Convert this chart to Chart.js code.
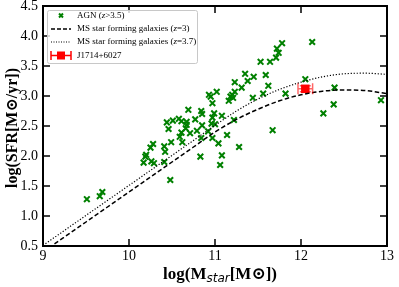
<!DOCTYPE html>
<html>
<head>
<meta charset="UTF-8">
<title>SFR vs stellar mass</title>
<script src="https://cdn.jsdelivr.net/npm/chart.js"></script>
<style>
  body { margin: 0; background: #fff; }
  #wrap { width: 399px; height: 287px; position: relative; }
</style>
</head>
<body>
<div id="wrap"><canvas id="sfrChart"></canvas></div>
<script>
// AGN at z>3.5
const agnMass = [9.51, 9.66, 9.69, 10.17, 10.19, 10.20, 10.26, 10.29, 10.25, 10.28,
  10.41, 10.42, 10.41, 10.48, 10.49, 10.46, 10.44, 10.51, 10.58, 10.61,
  10.59, 10.61, 10.62, 10.66, 10.67, 10.67, 10.69, 10.71, 10.77, 10.79,
  10.83, 10.85, 10.84, 10.85, 10.84, 10.92, 10.93, 10.95, 10.97, 10.97,
  10.96, 10.99, 10.97, 11.00, 11.02, 11.04, 11.06, 11.08, 11.08, 11.14,
  11.16, 11.18, 11.20, 11.21, 11.23, 11.23, 11.22, 11.28, 11.31, 11.35,
  11.38, 11.45, 11.44, 11.53, 11.56, 11.59, 11.62, 11.64, 11.67, 11.71,
  11.72, 11.74, 11.78, 11.82, 12.05, 12.13, 12.26, 12.38, 12.39, 12.93];
const agnSfr = [1.28, 1.33, 1.40, 1.89, 1.99, 2.02, 1.91, 1.88, 2.14, 2.20,
  1.90, 2.07, 2.16, 1.60, 2.23, 2.45, 2.56, 2.59, 2.62, 2.58,
  2.32, 2.39, 2.23, 2.46, 2.52, 2.57, 2.77, 2.38, 2.61, 2.42,
  1.99, 2.51, 2.75, 2.70, 2.30, 2.41, 3.02, 2.99, 2.88, 2.64,
  2.54, 2.71, 2.30, 2.53, 3.07, 2.21, 1.85, 2.01, 2.67, 2.35,
  2.92, 2.99, 3.02, 2.97, 3.07, 3.23, 2.60, 2.15, 3.14, 3.37,
  3.25, 3.32, 2.97, 3.57, 3.04, 3.35, 3.17, 3.57, 2.43, 3.64,
  3.79, 3.72, 3.88, 3.04, 3.28, 3.90, 2.71, 2.86, 3.14, 2.93];

// main sequence curves, read at steps of 0.25 in mass
const msMass = [9.0, 9.25, 9.5, 9.75, 10.0, 10.25, 10.5, 10.75, 11.0, 11.25,
  11.5, 11.75, 12.0, 12.25, 12.5, 12.75, 13.0];
const msZ3 = [0.40, 0.65, 0.90, 1.15, 1.40, 1.65, 1.90, 2.15, 2.40, 2.61,
  2.78, 2.92, 3.02, 3.08, 3.10, 3.09, 3.04];
const msZ37 = [0.51, 0.76, 1.01, 1.26, 1.51, 1.76, 2.01, 2.26, 2.51, 2.75,
  2.95, 3.11, 3.23, 3.32, 3.37, 3.38, 3.36];

// J1714+6027
const j1714Mass = [12.05];
const j1714Sfr = [3.12];
const j1714MassErr = [0.085];
const j1714SfrErr = [0.05];

const GREEN = '#008000';
const RED = '#ff0000';
const SERIF = "'Liberation Serif', 'DejaVu Serif', serif";

Chart.defaults.font.family = SERIF;
Chart.defaults.color = '#000';

const toPoints = (xs, ys) => xs.map((x, i) => ({ x: x, y: ys[i] }));

// error bars for J1714, drawn through the scales
const errorBars = {
  id: 'errorBars',
  afterDatasetsDraw(chart) {
    const { ctx, scales: { x, y } } = chart;
    ctx.save();
    ctx.strokeStyle = 'rgba(255,0,0,0.6)';
    ctx.lineWidth = 1.5;
    j1714Mass.forEach((m, i) => {
      const px = x.getPixelForValue(m);
      const py = y.getPixelForValue(j1714Sfr[i]);
      const x0 = x.getPixelForValue(m - j1714MassErr[i]);
      const x1 = x.getPixelForValue(m + j1714MassErr[i]);
      const y0 = y.getPixelForValue(j1714Sfr[i] - j1714SfrErr[i]);
      const y1 = y.getPixelForValue(j1714Sfr[i] + j1714SfrErr[i]);
      ctx.beginPath();
      ctx.moveTo(x0, py); ctx.lineTo(x1, py);
      ctx.moveTo(x0, py - 5.5); ctx.lineTo(x0, py + 5.5);
      ctx.moveTo(x1, py - 5.5); ctx.lineTo(x1, py + 5.5);
      ctx.moveTo(px, y0); ctx.lineTo(px, y1);
      ctx.moveTo(px - 5.5, y0); ctx.lineTo(px + 5.5, y0);
      ctx.moveTo(px - 5.5, y1); ctx.lineTo(px + 5.5, y1);
      ctx.stroke();
    });
    ctx.restore();
  }
};

// draw text pieces with mixed fonts
function drawPieces(ctx, pieces, x, y, align) {
  let total = 0;
  pieces.forEach(p => { ctx.font = p.font; total += ctx.measureText(p.text).width; });
  let cx = align === 'center' ? x - total / 2 : x;
  ctx.textAlign = 'left';
  pieces.forEach(p => {
    ctx.font = p.font;
    ctx.fillText(p.text, cx, y + (p.dy || 0));
    cx += ctx.measureText(p.text).width;
  });
}

// frame, inward ticks, axis titles and legend
const decor = {
  id: 'decor',
  afterDraw(chart) {
    const { ctx, chartArea: a, scales: { x, y } } = chart;
    ctx.save();
    ctx.strokeStyle = '#000';

    ctx.lineWidth = 1.5;
    ctx.beginPath();
    x.ticks.forEach(t => {
      const px = x.getPixelForValue(t.value);
      ctx.moveTo(px, a.bottom); ctx.lineTo(px, a.bottom - 7);
      ctx.moveTo(px, a.top); ctx.lineTo(px, a.top + 7);
    });
    y.ticks.forEach(t => {
      const py = y.getPixelForValue(t.value);
      ctx.moveTo(a.left, py); ctx.lineTo(a.left + 7, py);
      ctx.moveTo(a.right, py); ctx.lineTo(a.right - 7, py);
    });
    ctx.stroke();

    ctx.lineWidth = 2;
    ctx.strokeRect(a.left, a.top, a.right - a.left, a.bottom - a.top);

    // axis titles
    ctx.fillStyle = '#000';
    ctx.textBaseline = 'alphabetic';
    drawPieces(ctx, [
      { text: 'log(M', font: 'bold 17px ' + SERIF },
      { text: 'star', font: "italic 12px 'DejaVu Sans', sans-serif", dy: 3 },
      { text: '[M\u2299])', font: 'bold 17px ' + SERIF }
    ], 220, 279, 'center');

    ctx.save();
    ctx.translate(16.5, 128);
    ctx.rotate(-Math.PI / 2);
    ctx.font = 'bold 16px ' + SERIF;
    ctx.textAlign = 'center';
    ctx.fillText('log(SFR[M\u2299/yr])', 0, 0);
    ctx.restore();

    // legend
    const lx = 47.5, ly = 10.5, lw = 150, lh = 53;
    ctx.fillStyle = 'rgba(255,255,255,0.8)';
    ctx.strokeStyle = '#c8c8c8';
    ctx.lineWidth = 1;
    ctx.beginPath();
    ctx.roundRect(lx, ly, lw, lh, 2);
    ctx.fill();
    ctx.stroke();

    const rows = [15.5, 29, 42, 55.5];
    const sx0 = 51, sx1 = 71, tx = 77;

    ctx.strokeStyle = GREEN;
    ctx.lineWidth = 2;
    ctx.beginPath();
    ctx.moveTo(59, rows[0] - 2); ctx.lineTo(63, rows[0] + 2);
    ctx.moveTo(59, rows[0] + 2); ctx.lineTo(63, rows[0] - 2);
    ctx.stroke();

    ctx.strokeStyle = '#000';
    ctx.lineWidth = 1.4;
    ctx.setLineDash([4, 2]);
    ctx.beginPath(); ctx.moveTo(sx0, rows[1]); ctx.lineTo(sx1, rows[1]); ctx.stroke();
    ctx.lineWidth = 1.1;
    ctx.setLineDash([1, 1.5]);
    ctx.beginPath(); ctx.moveTo(sx0, rows[2]); ctx.lineTo(sx1, rows[2]); ctx.stroke();
    ctx.setLineDash([]);

    ctx.strokeStyle = RED;
    ctx.lineWidth = 1.5;
    ctx.beginPath();
    ctx.moveTo(sx0, rows[3]); ctx.lineTo(sx1, rows[3]);
    ctx.moveTo(sx0, rows[3] - 4.5); ctx.lineTo(sx0, rows[3] + 4.5);
    ctx.moveTo(sx1, rows[3] - 4.5); ctx.lineTo(sx1, rows[3] + 4.5);
    ctx.stroke();
    ctx.fillStyle = RED;
    ctx.fillRect(57, rows[3] - 4, 8, 8);

    ctx.fillStyle = '#000';
    ctx.textBaseline = 'middle';
    const reg = '9px ' + SERIF, ita = 'italic 9px ' + SERIF;
    drawPieces(ctx, [{ text: 'AGN (', font: reg }, { text: 'z', font: ita }, { text: '>3.5)', font: reg }], tx, rows[0]);
    drawPieces(ctx, [{ text: 'MS star forming galaxies (', font: reg }, { text: 'z', font: ita }, { text: '=3)', font: reg }], tx, rows[1]);
    drawPieces(ctx, [{ text: 'MS star forming galaxies (', font: reg }, { text: 'z', font: ita }, { text: '=3.7)', font: reg }], tx, rows[2]);
    drawPieces(ctx, [{ text: 'J1714+6027', font: reg }], tx, rows[3]);

    ctx.restore();
  }
};

new Chart(document.getElementById('sfrChart'), {
  type: 'scatter',
  data: {
    datasets: [
      {
        label: 'MS star forming galaxies (z=3)',
        type: 'line',
        data: toPoints(msMass, msZ3),
        borderColor: '#000',
        borderWidth: 1.5,
        borderDash: [4.5, 2.5],
        pointRadius: 0,
        cubicInterpolationMode: 'monotone',
        fill: false
      },
      {
        label: 'MS star forming galaxies (z=3.7)',
        type: 'line',
        data: toPoints(msMass, msZ37),
        borderColor: '#000',
        borderWidth: 1.2,
        borderDash: [1.2, 1.8],
        pointRadius: 0,
        cubicInterpolationMode: 'monotone',
        fill: false
      },
      {
        label: 'AGN (z>3.5)',
        data: toPoints(agnMass, agnSfr),
        pointStyle: 'crossRot',
        pointRadius: 4,
        borderColor: GREEN,
        borderWidth: 2
      },
      {
        label: 'J1714+6027',
        data: toPoints(j1714Mass, j1714Sfr),
        pointStyle: 'rect',
        pointRadius: 6,
        backgroundColor: RED,
        borderColor: RED,
        borderWidth: 0
      }
    ]
  },
  options: {
    responsive: true,
    maintainAspectRatio: false,
    animation: false,
    layout: { padding: { top: 6, right: 12, left: 0, bottom: 0 } },
    plugins: { legend: { display: false }, tooltip: { enabled: false } },
    scales: {
      x: {
        type: 'linear',
        min: 9, max: 13,
        grid: { display: false, drawTicks: false },
        border: { display: false },
        ticks: { stepSize: 1, padding: 3, font: { size: 14, lineHeight: 1 }, maxRotation: 0 },
        afterFit: s => { s.height = 41; s.paddingLeft = 0; s.paddingRight = 0; }
      },
      y: {
        min: 0.5, max: 4.5,
        grid: { display: false, drawTicks: false },
        border: { display: false },
        ticks: { stepSize: 0.5, padding: 5, font: { size: 14, lineHeight: 0.8 }, callback: v => v.toFixed(1) },
        afterFit: s => { s.width = 43; s.paddingTop = 0; s.paddingBottom = 0; }
      }
    }
  },
  plugins: [errorBars, decor]
});
</script>
</body>
</html>
